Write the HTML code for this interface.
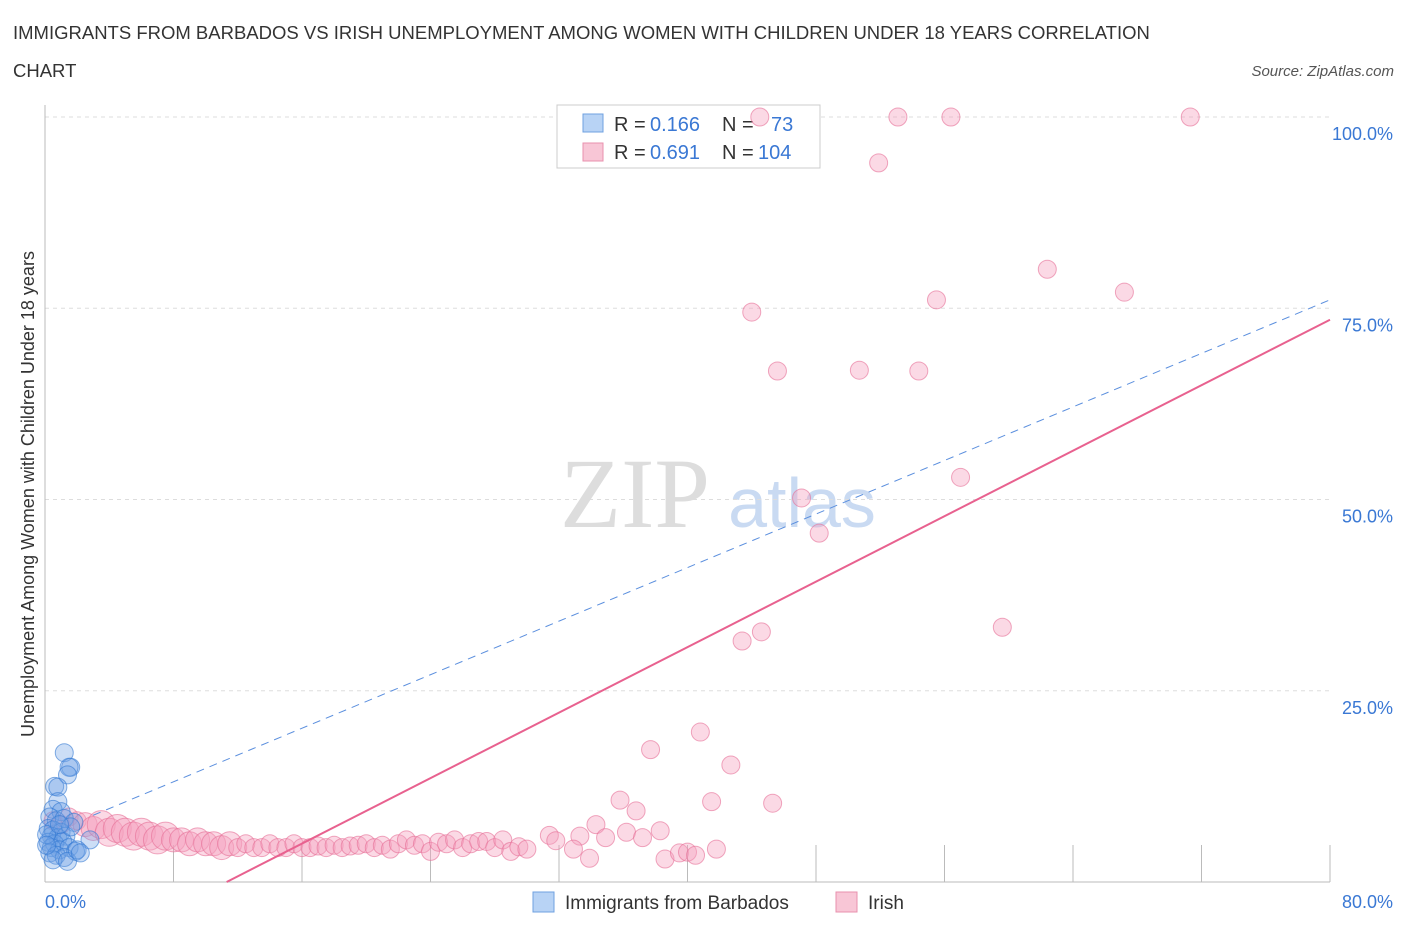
<!DOCTYPE html>
<html><head><meta charset="utf-8"><style>
body{margin:0;background:#fff;font-family:"Liberation Sans",sans-serif;}
svg{display:block}
</style></head><body>
<svg width="1406" height="930" xmlns="http://www.w3.org/2000/svg">
<text x="13" y="39" font-size="18.5" fill="#333">IMMIGRANTS FROM BARBADOS VS IRISH UNEMPLOYMENT AMONG WOMEN WITH CHILDREN UNDER 18 YEARS CORRELATION</text>
<text x="13" y="77" font-size="18.5" fill="#333">CHART</text>
<text x="1394" y="76" font-size="15" fill="#555" font-style="italic" text-anchor="end">Source: ZipAtlas.com</text>
<text x="635" y="527" font-size="100" fill="#ddd" font-family="Liberation Serif,serif" text-anchor="middle">ZIP</text>
<text x="802" y="527" font-size="70" fill="#c9daf2" text-anchor="middle">atlas</text>
<g id="grid"></g>
<g id="axes"></g>
<g>
<rect x="557" y="105" width="263" height="63" fill="#fff" stroke="#ccc"/>
<rect x="583" y="114" width="20" height="18" fill="#b8d3f5" stroke="#6fa0e0"/>
<rect x="583" y="143" width="20" height="18" fill="#f8c6d6" stroke="#e890ae"/>
<text x="614" y="131" font-size="20" fill="#333">R =</text>
<text x="650" y="131" font-size="20" fill="#3a78d4">0.166</text>
<text x="722" y="131" font-size="20" fill="#333">N =</text>
<text x="771" y="131" font-size="20" fill="#3a78d4">73</text>
<text x="614" y="159" font-size="20" fill="#333">R =</text>
<text x="650" y="159" font-size="20" fill="#3a78d4">0.691</text>
<text x="722" y="159" font-size="20" fill="#333">N =</text>
<text x="758" y="159" font-size="20" fill="#3a78d4">104</text>
</g>
<g id="marks"></g>
<g>
<rect x="533" y="892" width="21" height="20" fill="#b8d3f5" stroke="#6fa0e0"/>
<text x="565" y="909" font-size="19" fill="#333">Immigrants from Barbados</text>
<rect x="836" y="892" width="21" height="20" fill="#f8c6d6" stroke="#e890ae"/>
<text x="868" y="909" font-size="19" fill="#333">Irish</text>
</g>
<text x="45" y="908" font-size="18" fill="#3a78d4">0.0%</text>
<text x="1393" y="908" font-size="18" fill="#3a78d4" text-anchor="end">80.0%</text>
<text transform="translate(34,494) rotate(-90)" font-size="18" fill="#333" text-anchor="middle">Unemployment Among Women with Children Under 18 years</text>
</svg>
<script>
const yTicks=[25,50,75,100];
const yTickLabels=["25.0%","50.0%","75.0%","100.0%"];
const xTicks=[0,8,16,24,32,40,48,56,64,72,80];
const blueX=[1.2,1.6,1.5,1.4,0.6,0.8,0.8,0.5,1.0,0.3,0.7,1.2,1.8,0.2,0.5,1.0,0.4,0.8,1.3,0.2,0.6,1.1,2.8,0.4,0.9,1.5,1.9,0.3,0.7,1.2,0.5,1.4,2.0,0.1,0.1,1.6,2.2,0.9];
const blueY=[16.9,15,15,14,12.5,12.4,10.5,9.5,9.2,8.5,8,8.3,7.8,7,6.8,6.5,6,5.8,6,5.2,5,5.3,5.5,4.5,4.2,4.5,4,3.8,3.5,3.2,2.9,2.7,4.2,6.2,4.8,7.2,3.8,7.5];
const pinkX=[0.5,1,1.5,2,2.5,3,3.5,4,4.5,5,5.5,6,6.5,7,7.5,8,8.5,9,9.5,10,10.5,11,11.5,12,12.5,13,13.5,14,14.5,15,15.5,16,16.5,17,17.5,18,18.5,19,19.5,20,20.5,21,21.5,22,22.5,23,23.5,24,24.5,25,25.5,26,26.5,27,27.5,28,28.5,29,29.5,30,
44.5,53.1,56.4,71.3,51.9,62.4,67.2,55.5,44.0,45.6,50.7,54.4,57.0,47.1,48.2,44.6,43.4,59.6,40.8,37.7,42.7,35.8,36.8,41.5,45.3,38.3,36.2,34.3,34.9,33.3,37.2,31.4,31.8,32.9,33.9,38.6,39.5,40.0,41.8,40.5];
const pinkY=[8,7.5,8.5,8,7.5,7,7.5,6.5,7,6.5,6,6.5,6,5.5,6,5.5,5.5,5,5.5,5,5,4.5,5,4.5,5,4.5,4.5,5,4.5,4.5,5,4.5,4.5,4.7,4.5,4.8,4.5,4.7,4.8,5,4.5,4.8,4.3,5,5.5,4.8,5,4,5.2,5,5.5,4.5,5,5.3,5.3,4.5,5.5,4,4.6,4.3,
100,100,100,100,94,80.1,77.1,76.1,74.5,66.8,66.9,66.8,52.9,50.2,45.6,32.7,31.5,33.3,19.6,17.3,15.3,10.7,9.3,10.5,10.3,6.7,6.5,7.5,5.8,6,5.8,6.1,5.4,4.3,3.1,3,3.8,3.9,4.3,3.5];
const blueLine=[6.1,76.1];
const pinkLine=[-12.1,1.07];
const X=v=>45+v*1285/80, Y=v=>882-v*765/100;
const NS="http://www.w3.org/2000/svg";
function mk(p,t,a){const e=document.createElementNS(NS,t);for(const k in a)e.setAttribute(k,a[k]);p.appendChild(e);return e;}
const grid=document.getElementById('grid'),axes=document.getElementById('axes'),marks=document.getElementById('marks');
yTicks.forEach((v,i)=>{
 const l=mk(grid,'line',{x1:45,x2:1330,y1:Y(v),y2:Y(v),stroke:'#ddd','stroke-dasharray':'4,4'});
 
 
 const t=mk(grid,'text',{x:1393,y:Y(v)+23,'font-size':18,fill:'#3a78d4','text-anchor':'end'});
 t.textContent=yTickLabels[i];
 
 
});
const ax=mk(axes,'line',{x1:45,x2:45,y1:105,y2:882,stroke:'#bbb'});


const bx=mk(axes,'line',{x1:45,x2:1330,y1:882,y2:882,stroke:'#bbb'});


xTicks.forEach(v=>{const t=mk(axes,'line',{x1:X(v),x2:X(v),y1:845,y2:882,stroke:'#bbb'});
 
 });
pinkX.forEach((x,i)=>{
 const r=(x>2&&x<12)?(x>3&&x<8?14:12):9;
 const c=mk(marks,'circle',{cx:X(x),cy:Y(pinkY[i]),r:r,fill:'rgba(244,160,190,0.4)',stroke:'rgba(230,110,150,0.6)'});
 
 
});
blueX.forEach((x,i)=>{
 const c=mk(marks,'circle',{cx:X(x),cy:Y(blueY[i]),r:9,fill:'rgba(110,160,230,0.35)',stroke:'rgba(50,120,210,0.6)'});
 
 
});
const bl=mk(marks,'line',{x1:X(3),y1:Y(blueLine[0]+(blueLine[1]-blueLine[0])*3/80),x2:X(80),y2:Y(blueLine[1]),stroke:'#5b8fde','stroke-dasharray':'8,6','stroke-width':1});


const x0=-pinkLine[0]/pinkLine[1];
const pl=mk(marks,'line',{x1:X(x0),y1:Y(0),x2:X(80),y2:Y(pinkLine[0]+pinkLine[1]*80),stroke:'#e8618f','stroke-width':2});


</script>
</body></html>
